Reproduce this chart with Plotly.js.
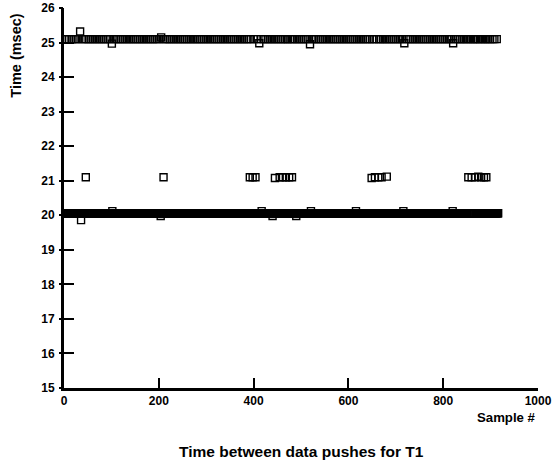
<!DOCTYPE html>
<html>
<head>
<meta charset="utf-8">
<script src="https://cdn.plot.ly/plotly-3.0.1.min.js"></script>
<style>html,body{margin:0;padding:0;background:#fff;}#chart{width:552px;height:468px;}</style>
</head>
<body>
<div id="chart"></div>
<script>
// ---- Data ----
const totalSamples = 916;
const base20 = 20.06;

// samples in the ~25 msec band
const idx25 = [2,7,11,16,20,25,29,34,38,43,
  47,52,56,61,65,70,74,79,83,88,
  92,97,101,106,110,115,119,124,128,133,
  137,142,146,151,155,160,164,169,173,178,
  182,187,191,196,200,205,209,214,218,223,
  227,232,236,241,245,250,254,259,263,268,
  272,277,281,286,290,295,299,304,308,313,
  317,322,326,331,335,340,344,349,353,358,
  362,367,371,376,380,385,389,394,400,407,
  412,416,421,425,430,434,439,443,448,452,
  457,461,466,470,473,478,483,487,492,496,
  501,505,510,514,519,523,528,532,537,541,
  546,550,555,559,564,568,573,577,582,586,
  591,595,600,604,609,613,618,622,627,631,
  636,640,645,650,654,659,665,668,673,677,
  682,686,691,695,700,704,709,713,718,722,
  727,731,736,740,745,749,754,758,763,767,
  772,776,781,785,790,794,799,803,808,812,
  817,821,826,830,835,839,844,848,852,857,
  862,865,869,873,878,882,887,890,895,899,
  904,908,913];
const val25 = [25.1,25.1,25.1,25.1,25.1,25.1,25.1,25.32,25.1,25.1,
  25.1,25.1,25.1,25.1,25.1,25.1,25.1,25.1,25.1,25.1,
  25.1,25.1,24.97,25.1,25.1,25.1,25.1,25.1,25.1,25.1,
  25.1,25.1,25.1,25.1,25.1,25.1,25.1,25.1,25.1,25.1,
  25.1,25.1,25.1,25.1,25.1,25.15,25.1,25.1,25.1,25.1,
  25.1,25.1,25.1,25.1,25.1,25.1,25.1,25.1,25.1,25.1,
  25.1,25.1,25.1,25.1,25.1,25.1,25.1,25.1,25.1,25.1,
  25.1,25.1,25.1,25.1,25.1,25.1,25.1,25.1,25.1,25.1,
  25.1,25.1,25.1,25.1,25.1,25.1,25.1,25.1,25.1,25.1,
  24.98,25.1,25.1,25.1,25.1,25.1,25.1,25.1,25.1,25.1,
  25.1,25.1,25.1,25.1,25.1,25.1,25.1,25.1,25.1,25.1,
  25.1,25.1,25.1,25.1,24.95,25.1,25.1,25.1,25.1,25.1,
  25.1,25.1,25.1,25.1,25.1,25.1,25.1,25.1,25.1,25.1,
  25.1,25.1,25.1,25.1,25.1,25.1,25.1,25.1,25.1,25.1,
  25.1,25.1,25.1,25.1,25.1,25.1,25.1,25.1,25.1,25.1,
  25.1,25.1,25.1,25.1,25.1,25.1,25.1,25.1,24.98,25.1,
  25.1,25.1,25.1,25.1,25.1,25.1,25.1,25.1,25.1,25.1,
  25.1,25.1,25.1,25.1,25.1,25.1,25.1,25.1,25.1,25.1,
  25.1,24.98,25.1,25.1,25.1,25.1,25.1,25.1,25.1,25.1,
  25.1,25.1,25.1,25.1,25.1,25.1,25.1,25.1,25.1,25.1,
  25.1,25.1,25.1];

// samples near 21 msec
const idx21 = [46,210,392,398,404,445,455,462,468,475,481,649,656,663,670,681,853,860,867,874,880,886,891];
const val21 = [21.1,21.1,21.1,21.1,21.1,21.08,21.1,21.1,21.1,21.1,21.1,21.08,21.1,21.1,21.1,21.12,21.1,21.1,21.1,21.12,21.1,21.1,21.1];

// deviations inside the ~20 msec band (sample, value)
const dev20Idx = [36,102,204,308,417,440,490,521,616,716,820];
const dev20Val = [19.86,20.12,19.98,19.98,20.12,19.98,19.98,20.12,20.12,20.12,20.12];

// axes
const xTicks = [0,200,400,600,800,1000];
const yTicks = [15,16,17,18,19,20,21,22,23,24,25,26];

// ---- build the ~20 msec band: every remaining sample ----
const taken = new Set(idx25.concat(idx21));
const x20 = [], y20 = [];
for (let s = 1; s <= totalSamples; s++) {
  if (taken.has(s)) continue;
  const k = dev20Idx.indexOf(s);
  x20.push(s);
  y20.push(k >= 0 ? dev20Val[k] : base20);
}

const mk = {symbol:'square-open', size:7, color:'#000', line:{width:1.4, color:'#000'}};
const traces = [
  {x:x20, y:y20, type:'scatter', mode:'markers', marker:mk, hoverinfo:'skip'},
  {x:idx25, y:val25, type:'scatter', mode:'markers', marker:mk, hoverinfo:'skip'},
  {x:idx21, y:val21, type:'scatter', mode:'markers', marker:mk, hoverinfo:'skip'},
  {x:[0], y:[15], yaxis:'y2', type:'scatter', mode:'markers', marker:{opacity:0}, hoverinfo:'skip'}
];

const font = {family:'Arial, "Liberation Sans", sans-serif', size:12, color:'#000', weight:'bold'};
const layout = {
  width:552, height:468,
  margin:{l:64, r:14, t:8, b:80},
  paper_bgcolor:'#fff', plot_bgcolor:'#fff',
  showlegend:false,
  font:font,
  xaxis:{range:[0,1000], tickvals:xTicks, ticktext:xTicks.map(String), ticks:'inside', ticklen:10, tickwidth:2,
         tickcolor:'#000', showline:true, linewidth:3, linecolor:'#000', showgrid:false, zeroline:false,
         tickfont:font, fixedrange:true},
  yaxis:{range:[15,26], tickvals:yTicks, ticktext:yTicks.map(String), ticks:'inside', ticklen:10, tickwidth:2,
         tickcolor:'#000', showline:true, linewidth:3, linecolor:'#000', showgrid:false, zeroline:false,
         tickfont:font, ticklabelstandoff:4, fixedrange:true},
  yaxis2:{range:[15,26], overlaying:'y', side:'left', anchor:'x', tickvals:yTicks, ticks:'outside', ticklen:4,
          tickwidth:2, tickcolor:'#000', showticklabels:false, showline:false, showgrid:false, zeroline:false},
  annotations:[
    {text:'Time (msec)', xref:'paper', yref:'paper', x:-0.1, y:0.876, textangle:-90, showarrow:false,
     font:{...font, size:14.5}, xanchor:'center', yanchor:'middle'},
    {text:'Sample #', xref:'paper', yref:'paper', x:1, y:-0.078, showarrow:false, font:{...font, size:13.2},
     xanchor:'right', yanchor:'middle'},
    {text:'Time between data pushes for T1', xref:'paper', yref:'paper', x:0.5, y:-0.168, showarrow:false,
     font:{...font, size:15.5}, xanchor:'center', yanchor:'middle'}
  ]
};
Plotly.newPlot('chart', traces, layout, {staticPlot:true, displayModeBar:false});
</script>
</body>
</html>
